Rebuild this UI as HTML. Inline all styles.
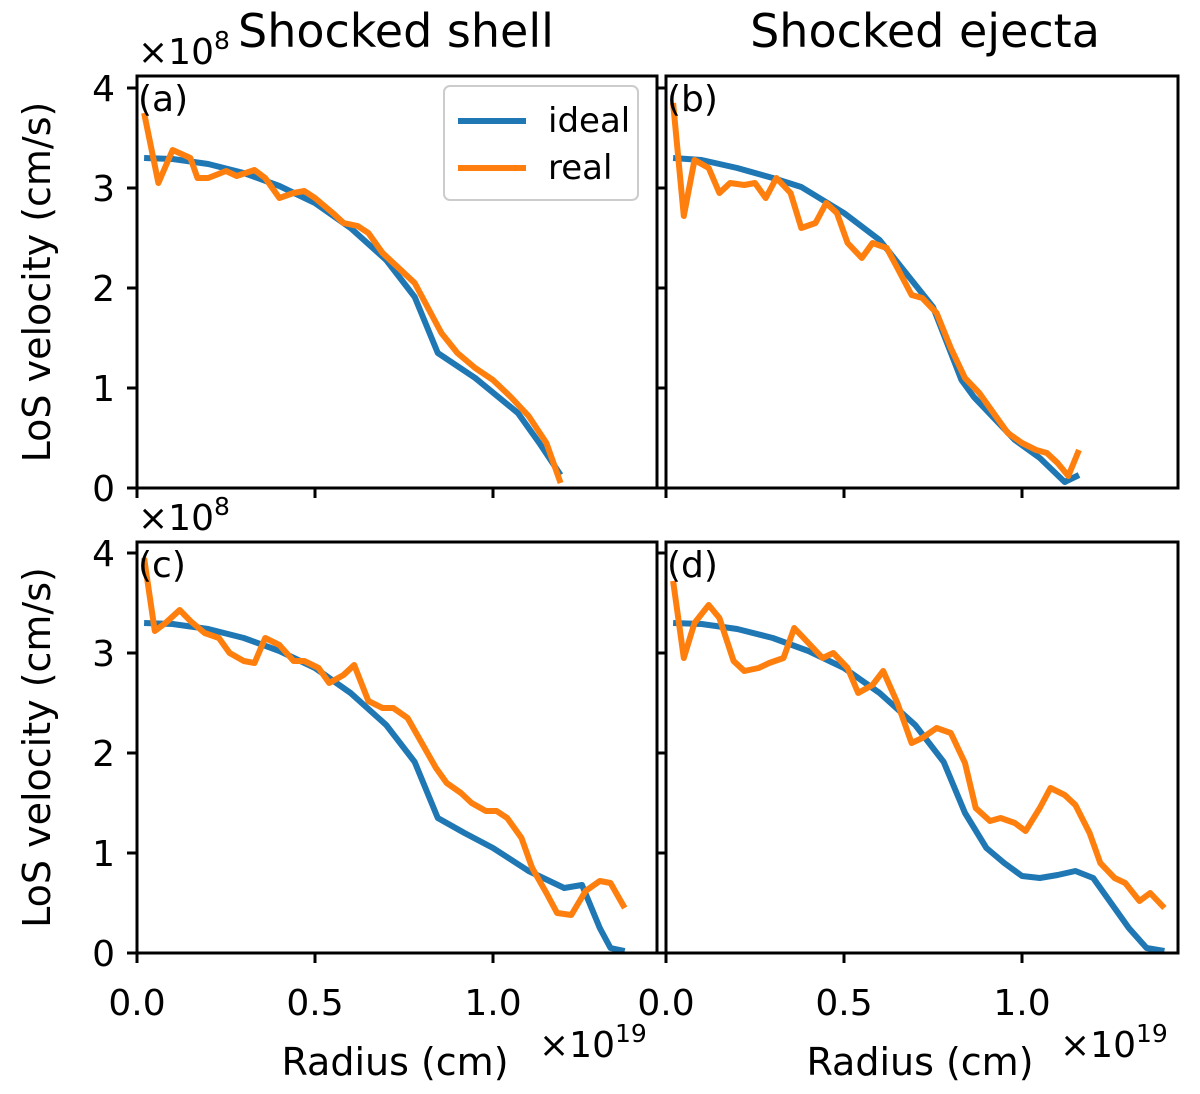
<!DOCTYPE html>
<html><head><meta charset="utf-8"><style>
body{margin:0;background:#fff}
svg{display:block;font-family:"DejaVu Sans","Liberation Sans",sans-serif}
</style></head><body>
<svg id="chart" width="1200" height="1094" xmlns="http://www.w3.org/2000/svg">
<rect width="1200" height="1094" fill="#fff"/>
</svg>
<script>
const xTicks=[0.0,0.5,1.0];
const xTickLabels=["0.0","0.5","1.0"];
const yTicks=[0,1,2,3,4];
const panelLabels=["(a)","(b)","(c)","(d)"];
const idealR_a=[0.02,0.1,0.2,0.3,0.4,0.5,0.6,0.7,0.78,0.845,0.95,1.07,1.13,1.19];
const idealV_a=[3.3,3.29,3.24,3.15,3.02,2.85,2.6,2.28,1.91,1.35,1.1,0.75,0.45,0.13];
const idealR_b=[0.02,0.1,0.2,0.3,0.38,0.5,0.6,0.75,0.83,0.865,0.98,1.05,1.12,1.16];
const idealV_b=[3.3,3.28,3.2,3.1,3.01,2.75,2.48,1.81,1.08,0.91,0.48,0.3,0.06,0.13];
const idealR_c=[0.02,0.1,0.2,0.3,0.4,0.5,0.6,0.7,0.78,0.845,0.92,1.0,1.1,1.2,1.25,1.3,1.33,1.37];
const idealV_c=[3.3,3.29,3.24,3.15,3.02,2.85,2.6,2.28,1.91,1.35,1.2,1.05,0.82,0.65,0.68,0.25,0.05,0.02];
const idealR_d=[0.02,0.1,0.2,0.3,0.4,0.5,0.6,0.7,0.78,0.84,0.9,0.95,1.0,1.05,1.1,1.15,1.2,1.25,1.3,1.35,1.4];
const idealV_d=[3.3,3.29,3.24,3.15,3.02,2.85,2.6,2.28,1.91,1.4,1.05,0.9,0.77,0.75,0.78,0.82,0.75,0.5,0.25,0.05,0.02];
const realR_a=[0.02,0.06,0.1,0.15,0.17,0.2,0.25,0.28,0.33,0.36,0.4,0.44,0.47,0.5,0.55,0.58,0.62,0.65,0.69,0.72,0.78,0.855,0.9,0.95,1.0,1.05,1.1,1.15,1.19];
const realV_a=[3.75,3.05,3.38,3.3,3.1,3.1,3.17,3.12,3.18,3.1,2.9,2.95,2.97,2.9,2.75,2.65,2.62,2.55,2.35,2.25,2.05,1.55,1.35,1.2,1.08,0.91,0.72,0.45,0.05];
const realR_b=[0.02,0.05,0.08,0.12,0.15,0.18,0.22,0.25,0.28,0.31,0.35,0.38,0.42,0.45,0.48,0.51,0.55,0.58,0.62,0.65,0.69,0.72,0.76,0.8,0.84,0.88,0.92,0.96,1.0,1.04,1.07,1.1,1.13,1.16];
const realV_b=[3.85,2.72,3.28,3.2,2.95,3.05,3.03,3.05,2.9,3.1,2.95,2.6,2.65,2.85,2.75,2.45,2.3,2.45,2.4,2.2,1.93,1.9,1.75,1.4,1.1,0.95,0.75,0.55,0.45,0.38,0.35,0.25,0.12,0.38];
const realR_c=[0.02,0.05,0.08,0.12,0.15,0.19,0.23,0.26,0.3,0.33,0.36,0.4,0.44,0.47,0.51,0.54,0.58,0.61,0.65,0.69,0.72,0.76,0.8,0.84,0.87,0.91,0.94,0.98,1.01,1.04,1.08,1.11,1.15,1.18,1.22,1.26,1.3,1.33,1.37];
const realV_c=[3.95,3.22,3.3,3.43,3.32,3.2,3.15,3.0,2.92,2.9,3.15,3.08,2.92,2.92,2.85,2.7,2.78,2.88,2.52,2.45,2.45,2.35,2.1,1.85,1.7,1.6,1.5,1.42,1.42,1.35,1.15,0.85,0.6,0.4,0.38,0.62,0.72,0.7,0.45];
const realR_d=[0.02,0.05,0.08,0.12,0.15,0.19,0.22,0.26,0.29,0.33,0.36,0.4,0.44,0.47,0.51,0.54,0.58,0.61,0.65,0.69,0.72,0.76,0.8,0.84,0.87,0.91,0.94,0.98,1.01,1.05,1.08,1.12,1.15,1.19,1.22,1.26,1.29,1.33,1.36,1.4];
const realV_d=[3.72,2.95,3.3,3.48,3.35,2.92,2.82,2.85,2.9,2.95,3.25,3.1,2.95,3.0,2.85,2.6,2.68,2.82,2.5,2.1,2.15,2.25,2.2,1.9,1.45,1.32,1.35,1.3,1.22,1.45,1.65,1.58,1.48,1.2,0.9,0.75,0.7,0.52,0.6,0.45];

const NS="http://www.w3.org/2000/svg";
const svg=document.getElementById('chart');
function mk(tag,attrs,parent){const e=document.createElementNS(NS,tag);for(const k in attrs)e.setAttribute(k,attrs[k]);(parent||svg).appendChild(e);return e;}
const panels=[
 {x0:137,x1:657,y0:76,y1:488,key:'a'},
 {x0:666,x1:1178,y0:76,y1:488,key:'b'},
 {x0:137,x1:657,y0:542,y1:953,key:'c'},
 {x0:666,x1:1178,y0:542,y1:953,key:'d'}];
const ideal={a:[idealR_a,idealV_a],b:[idealR_b,idealV_b],c:[idealR_c,idealV_c],d:[idealR_d,idealV_d]};
const real={a:[realR_a,realV_a],b:[realR_b,realV_b],c:[realR_c,realV_c],d:[realR_d,realV_d]};
panels.forEach((p,i)=>{
 const g=mk('g',{});
 
 
 const sx=v=>p.x0+v*356;
 const sy=v=>p.y1-v*100;
 const pathOf=(R,V)=>R.map((r,j)=>(j?'L':'M')+sx(r).toFixed(1)+' '+sy(V[j]).toFixed(1)).join(' ');
 const clipId='clip'+i;
 const cp=mk('clipPath',{id:clipId},g);mk('rect',{x:p.x0,y:p.y0,width:p.x1-p.x0,height:p.y1-p.y0},cp);
 const il=mk('path',{d:pathOf(ideal[p.key][0],ideal[p.key][1]),fill:'none',stroke:'#1f77b4','stroke-width':6,'stroke-linejoin':'round','clip-path':'url(#'+clipId+')'},g);
 
 
 const rl=mk('path',{d:pathOf(real[p.key][0],real[p.key][1]),fill:'none',stroke:'#ff7f0e','stroke-width':6,'stroke-linejoin':'round','clip-path':'url(#'+clipId+')'},g);
 
 
 mk('rect',{x:p.x0,y:p.y0,width:p.x1-p.x0,height:p.y1-p.y0,fill:'none',stroke:'#000','stroke-width':3},g);
 yTicks.forEach(t=>{const y=sy(t);mk('line',{x1:p.x0-10,x2:p.x0,y1:y,y2:y,stroke:'#000','stroke-width':3},g);
  mk('line',{x1:p.x1,x2:p.x1+ (i%2==0?8:0),y1:y,y2:y,stroke:'#000','stroke-width':3},g);
  if(i%2==0){const tl=mk('text',{x:p.x0-22,y:y+13,'font-size':36,'text-anchor':'end'},g);tl.textContent=t;
   }});
 xTicks.forEach((t,k)=>{const x=sx(t);mk('line',{x1:x,x2:x,y1:p.y1,y2:p.y1+10,stroke:'#000','stroke-width':3},g);
  if(i>=2){const tl=mk('text',{x:x,y:p.y1+62,'font-size':36,'text-anchor':'middle'},g);tl.textContent=xTickLabels[k];
   }});
 const pl=mk('text',{x:p.x0+1,y:p.y0+35,'font-size':36},g);pl.textContent=panelLabels[i];
 
 if(i%2==0){const yl=mk('text',{x:0,y:0,'font-size':38,'text-anchor':'middle',transform:'translate(50,'+((p.y0+p.y1)/2)+') rotate(-90)'},g);
  yl.textContent='LoS velocity (cm/s)';
  const ex=mk('text',{x:138,y:p.y0-12,'font-size':36},g);ex.innerHTML='×10<tspan dy="-15" font-size="25">8</tspan>';
  }
 if(i>=2){const xl=mk('text',{x:(p.x0+p.x1)/2-2,y:1075,'font-size':38,'text-anchor':'middle'},g);xl.textContent='Radius (cm)';
  
  const ex=mk('text',{x:p.x1-118,y:1057,'font-size':36},g);ex.innerHTML='×10<tspan dy="-15" font-size="25">19</tspan>';
  }
});
const t1=mk('text',{x:238,y:47,'font-size':46});t1.textContent='Shocked shell';

const t2=mk('text',{x:925,y:47,'font-size':46,'text-anchor':'middle'});t2.textContent='Shocked ejecta';

const lg=mk('g',{});

mk('rect',{x:444,y:86,width:194,height:114,rx:6,fill:'#fff',stroke:'#ccc','stroke-width':2},lg);
mk('line',{x1:458,x2:526,y1:121,y2:121,stroke:'#1f77b4','stroke-width':6},lg);
mk('line',{x1:458,x2:526,y1:168,y2:168,stroke:'#ff7f0e','stroke-width':6},lg);
const l1=mk('text',{x:548,y:132,'font-size':34},lg);l1.textContent='ideal';

const l2=mk('text',{x:548,y:179,'font-size':34},lg);l2.textContent='real';

</script>
</body></html>
